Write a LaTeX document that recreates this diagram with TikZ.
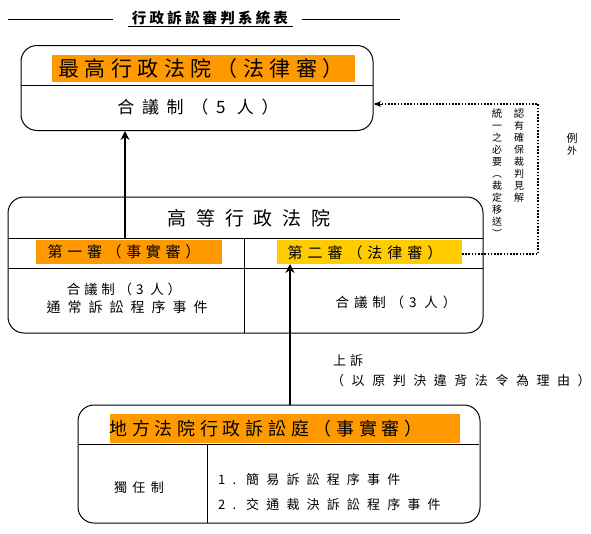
\documentclass[tikz,border=0pt]{standalone}
\usepackage{fontspec}
\setmainfont{Noto Sans CJK TC}
\usetikzlibrary{arrows.meta,calc}
\definecolor{orng}{RGB}{255,153,0}
\definecolor{ylw}{RGB}{255,204,0}
\newcommand\fs[2]{\fontsize{#1}{#1}\selectfont\addfontfeatures{LetterSpace=#2}}
\tikzset{
  court/.style={draw=black, line width=1pt, rounded corners=16pt, inner sep=0pt},
  hdr/.style={inner sep=0pt, anchor=center},
  lbl/.style={inner sep=0pt},
  uparrow/.style={line width=2.4pt, -{Stealth[length=9pt,width=9pt]}},
  dotline/.style={line width=1.6pt, dash pattern=on 1.6pt off 1.6pt},
  vtext/.style={inner sep=0pt, align=center, anchor=north}
}
\begin{document}
\begin{tikzpicture}[x=1pt,y=-1pt]
\useasboundingbox (0,0) rectangle (591,533);
% title
\node[lbl] (title) at (210,18) {\bfseries\fs{14.5}{22}行政訴訟審判系統表};
\draw[line width=0.8pt] (128,26) -- (293,26);
\draw[line width=0.8pt] (8,19) -- (113,19);
\draw[line width=0.8pt] (302,19) -- (400,19);
% top court
\node[court, minimum width=352pt, minimum height=85pt] (top) at (197,88) {};
\draw[line width=0.8pt] (21,85) -- (373,85);
\fill[orng] (52,55) rectangle (355,82);
\node[hdr] (toph) at (201,68.5) {\fs{21}{26}最高行政法院（法律審）};
\node[hdr] (topb) at (198,107) {\fs{17}{45}合議制（5 人）};
% middle court
\node[court, minimum width=475pt, minimum height=136pt] (mid) at (245.5,265) {};
\node[hdr] (midh) at (249,218) {\fs{19}{52}高等行政法院};
\draw[line width=0.8pt] (8,238) -- (483,238);
\draw[line width=0.8pt] (8,268) -- (483,268);
\draw[line width=0.8pt] (244,238) -- (244,333);
\fill[orng] (36,240) rectangle (222,264);
\fill[ylw] (277,240) rectangle (462,264);
\node[hdr] (first) at (124,252) {\fs{15}{31}第一審（事實審）};
\node[hdr] (second) at (365,253) {\fs{15}{33}第二審（法律審）};
\node[hdr] (l1) at (124,289) {\fs{13.5}{28}合議制（3 人）};
\node[hdr] (l2) at (127,307) {\fs{14}{50}通常訴訟程序事件};
\node[hdr] (r1) at (396,302) {\fs{13.5}{36}合議制（3 人）};
% bottom court
\node[court, minimum width=402pt, minimum height=118pt] (bot) at (279,464) {};
\fill[orng] (110,414) rectangle (460,443);
\draw[line width=0.8pt] (79,444) -- (479,444);
\draw[line width=0.8pt] (207,444) -- (207,523);
\node[hdr] (both) at (266,428.5) {\fs{18}{26}地方法院行政訴訟庭（事實審）};
\node[hdr] (solo) at (139,488) {\fs{13}{42}獨任制};
\node[lbl, anchor=west] (b1) at (218,480) {\fs{13}{55}1.\ 簡易訴訟程序事件};
\node[lbl, anchor=west] (b2) at (218,505) {\fs{13}{55}2.\ 交通裁決訴訟程序事件};
% appeal labels
\node[lbl, anchor=west] (ap1) at (333,361) {\fs{13}{30}上訴};
\node[lbl, anchor=west] (ap2) at (331,381) {\fs{13}{58}（以原判決違背法令為理由）};
% arrows
\coordinate (a1s) at (125,238);
\coordinate (a1e) at (125,131);
\draw[uparrow] (a1s) -- (a1e);
\coordinate (a2s) at (290,405);
\coordinate (a2e) at (290,264);
\draw[uparrow] (a2s) -- (a2e);
% dotted exception path
\coordinate (d0) at (462,254);
\coordinate (d1) at (538,254);
\coordinate (d2) at (538,104);
\coordinate (d3) at (374,104);
\coordinate (d4) at (382,104);
\draw[dotline] (d0) -- (d1) -- (d2) -- (d3);
\draw[-{Stealth[length=7pt,width=6pt]}, line width=1pt] (d4) -- (d3);
% vertical texts
\node[vtext] (v1) at (519,108) {\fontsize{10.5}{10.4}\selectfont 認\\有\\確\\保\\裁\\判\\見\\解};
\node[vtext] (v2) at (497,108) {\fontsize{10.5}{9.4}\selectfont 統\\一\\之\\必\\要\\︵\\裁\\定\\移\\送\\︶};
\node[vtext] (v3) at (572,133) {\fontsize{11}{11}\selectfont 例\\外};
\end{tikzpicture}
\end{document}
